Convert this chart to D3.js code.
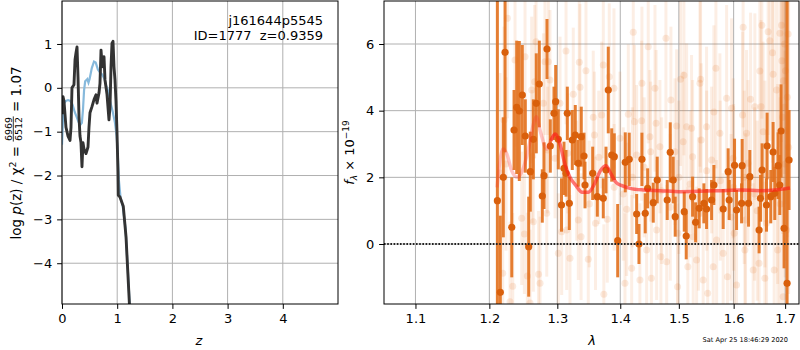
<!DOCTYPE html>
<html><head><meta charset="utf-8">
<script src="https://cdn.jsdelivr.net/npm/d3@7"></script>
<style>body{margin:0;background:#fff} text{font-family:"DejaVu Sans",sans-serif}</style>
</head><body><svg id="c" width="800" height="350"></svg>
<script>
// ---- left panel: p(z)
const zBlack=[0,0.018,0.036,0.072,0.109,0.145,0.163,0.181,0.217,0.236,0.254,0.272,0.29,0.308,0.326,0.344,0.362,0.38,0.399,0.435,0.471,0.489,0.507,0.543,0.58,0.616,0.634,0.67,0.688,0.707,0.725,0.743,0.761,0.779,0.797,0.815,0.851,0.87,0.888,0.906,0.924,0.942,0.96,0.978,0.996,1.014,1.02,1.05,1.11,1.16,1.19,1.22,1.25];
const pBlack=[-0.6,-0.2,-0.3,-0.9,-1.1,-1.2,-0.9,0.0,0.07,0.64,0.8,0.93,0.25,-0.66,-1.1,-1.25,-1.8,-1.25,-1.4,-1.5,-1.35,-0.9,-0.57,-0.43,-0.27,-0.16,-0.35,-0.12,0.1,0.86,0.56,0.48,0.71,0.18,0.02,-0.15,-0.73,-0.43,0.48,1.02,1.06,0.48,0.18,-0.3,-1.0,-1.9,-2.45,-2.49,-2.7,-3.4,-4.15,-4.9,-5.6];
const zBlue=[0,0.018,0.036,0.07,0.11,0.15,0.19,0.23,0.27,0.30,0.33,0.36,0.38,0.40,0.42,0.46,0.48,0.50,0.54,0.58,0.61,0.65,0.69,0.73,0.77,0.80,0.83,0.87,0.92,0.96,0.99,1.01,1.03,1.06,1.10,1.15,1.19,1.225,1.255];
const pBlue=[-1.3,-0.7,-0.35,-0.3,-0.28,-0.3,-0.38,-0.55,-0.68,-0.78,-0.85,-0.8,-0.5,-0.05,0.15,0.2,0.12,0.2,0.45,0.6,0.58,0.42,0.35,0.3,0.2,0.05,-0.05,-0.3,-0.55,-0.8,-1.1,-1.5,-2.1,-2.5,-2.7,-3.2,-4.1,-4.9,-5.6];
const zTicks=[0,1,2,3,4];
const pTicks=[1,0,-1,-2,-3,-4];

// ---- right panel: spectrum
const binLam=[1.2114,1.2156,1.2199,1.2224,1.2321,1.2354,1.2393,1.2431,1.2475,1.2519,1.2569,1.2593,1.2638,1.2682,1.2727,1.2772,1.2798,1.2843,1.2893,1.2949,1.2975,1.3015,1.3064,1.3103,1.3134,1.3154,1.3185,1.3231,1.3278,1.3325,1.3372,1.3415,1.3431,1.3553,1.3627,1.3723,1.3767,1.3804,1.3860,1.3902,1.3958,1.4083,1.4149,1.4273,1.4312,1.4362,1.4418,1.4459,1.4555,1.4623,1.4796,1.4849,1.4901,1.4936,1.5096,1.5131,1.5245,1.5299,1.5364,1.5449,1.5498,1.5590,1.5632,1.5804,1.5897,1.5916,1.6017,1.6055,1.6150,1.6161,1.6283,1.6308,1.6487,1.6514,1.6545,1.6631,1.6643,1.6715,1.6761,1.6794,1.6860,1.6893,1.6919,1.6979,1.7039,1.7079];
const binFlux=[1.30,-1.45,2.0,5.75,0.5,3.42,4.1,3.99,4.47,3.24,-0.08,2.17,3.14,4.22,4.8,1.44,2.05,5.85,2.94,3.92,4.27,3.14,1.17,2.27,2.12,3.92,1.22,3.12,3.27,2.42,3.22,2.64,1.77,2.12,1.42,1.37,2.22,4.62,2.67,2.62,0.1,2.45,2.54,0.9,0.0,2.54,0.92,1.67,1.24,1.92,1.32,2.75,1.92,0.82,0.97,0.24,1.42,0.65,1.07,1.22,1.05,1.32,1.77,1.05,2.17,1.32,2.36,1.02,1.22,2.35,1.22,2.02,0.42,1.37,2.22,1.17,2.94,1.42,2.76,1.52,2.35,1.77,3.39,0.47,-1.18,2.52];
const binErr=[7,2.3,1.8,3,1.5,1.2,2.0,2.1,1.5,1.1,1.5,1.2,1.2,1.5,1.3,0.8,1.0,0.9,0.8,0.8,1.1,0.9,0.8,0.8,0.7,0.8,0.8,0.9,0.9,0.7,0.9,0.7,0.7,0.8,0.6,0.6,0.7,1.3,0.8,0.7,1.1,0.9,0.8,0.6,0.6,0.8,0.6,0.6,0.6,0.7,0.6,0.9,0.7,0.6,0.6,0.7,0.6,0.6,0.6,0.6,0.6,0.6,0.6,0.6,0.7,0.6,0.8,0.6,0.6,0.8,0.7,0.8,0.7,0.7,0.8,0.8,1.0,0.8,0.9,0.8,1.0,0.9,1.4,1.2,9,1.5];

const faintLam=[1.3134,1.3341,1.3446,1.3247,1.3352,1.3723,1.3820,1.3897,1.4216,1.4469,1.4362,1.4584,1.4774,1.4861,1.5031,1.5090,1.5389,1.5669,1.6180,1.6540,1.6663,1.6502,1.6762,1.6829,1.6895,1.6928,1.6697,1.6750,1.6322,1.5868,1.5377,1.3562,1.3697,1.4133,1.4236,1.4357,1.4604,1.4498,1.4961,1.5138,1.5498,1.5227,1.5632,1.5961,1.6169,1.6405,1.6524,1.5077,1.5400,1.5743,1.6245,1.6566,1.4670,1.4510,1.3580,1.3160,1.3995,1.4273,1.4931,1.5245,1.5590,1.5991,1.6273,1.3325,1.3195,1.3483,1.3732,1.3788,1.4106,1.4189,1.4328,1.4078,1.4442,1.4523,1.4687,1.4786,1.4978,1.5160,1.5317,1.5436,1.5518,1.5619,1.5804,1.5883,1.6055,1.6213,1.6372,1.6486,1.6599,1.6782,1.6852,1.6960,1.7028,1.3369,1.3598,1.4613,1.5256,1.5682,1.6226,1.6632,1.4983,1.6011,1.2466,1.2505,1.2638,1.2738,1.2716,1.2335,1.2191,1.2549,1.2296,1.2589,1.2839,1.3015,1.3067,1.3144,1.2257,1.2368,1.2515,1.2658,1.2614,1.2209,1.2238,1.2152,1.2813,1.2888,1.3041,1.2789,1.2853,1.2965,1.2618,1.2678,1.2863,1.6935,1.6965,1.6990,1.7005,1.7045,1.7060,1.6950,1.7015,1.7070,1.6985,1.3300,1.3500,1.3650,1.3900,1.4050,1.4200,1.4400,1.4700,1.5000,1.5200,1.5500,1.5750,1.6000,1.6200,1.6400,1.6600,1.6850,1.7000,1.4850,1.5350,1.5950,1.6450,1.6900];
const faintFlux=[5.79,5.45,5.20,4.49,4.70,5.37,5.02,4.67,6.35,5.92,4.82,4.67,6.17,4.32,4.94,5.06,4.94,5.27,6.50,6.56,6.37,5.19,5.09,4.62,6.32,6.56,6.10,5.74,4.34,4.37,4.82,3.80,3.87,3.89,3.67,3.70,3.62,3.22,3.54,3.52,3.52,3.47,3.96,4.07,3.87,4.12,4.12,3.07,3.12,3.32,3.32,3.37,2.92,2.77,3.27,2.72,3.17,2.67,2.77,2.62,2.52,2.57,2.42,0.72,-0.43,-0.46,-1.51,0.74,1.04,-0.73,-1.08,-1.18,-0.18,-1.03,-0.38,-0.53,-1.28,-0.68,-0.48,-1.08,-1.48,-0.68,-0.28,-0.98,-1.23,-0.18,-0.78,-0.58,-1.03,-0.78,-0.18,-1.58,0.42,0.22,0.62,0.42,0.22,0.12,0.72,0.62,0.32,0.32,0.77,0.30,0.67,-1.18,-0.91,-1.27,-0.88,-0.96,-1.73,-1.77,0.92,-0.28,0.37,0.42,6.77,5.52,5.62,4.87,4.62,3.72,2.40,2.13,5.47,4.92,4.22,4.22,2.82,2.57,2.62,6.07,5.47,5.50,4.90,6.00,5.20,4.40,6.30,3.80,3.40,2.90,4.10,1.90,1.20,2.60,1.70,1.50,2.00,2.30,1.60,2.00,1.80,2.20,1.90,1.70,2.00,1.50,2.10,1.80,2.40,1.10,0.90,0.80,1.00,1.20];
const faintErr=[2.2,2.4,2.6,2.0,2.5,2.8,2.2,2.4,2.6,2.9,2.3,2.5,2.7,2.2,2.6,2.4,2.8,3.0,3.0,2.8,3.1,2.9,3.2,3.0,3.4,3.5,3.0,3.3,2.6,2.8,2.5,2.0,2.2,2.1,2.3,2.4,2.2,2.0,2.3,2.5,2.4,2.2,2.6,2.7,2.5,2.8,2.6,2.1,2.3,2.4,2.5,2.7,2.0,2.1,1.9,1.8,2.0,2.1,2.2,2.3,2.2,2.4,2.5,1.8,1.9,2.0,2.1,1.9,2.0,2.2,2.3,2.1,2.0,2.4,2.2,2.3,2.5,2.4,2.2,2.6,2.5,2.3,2.4,2.6,2.7,2.5,2.6,2.8,2.9,3.0,3.1,3.4,3.6,1.9,2.0,2.1,2.3,2.4,2.6,2.8,2.2,2.5,2.0,1.8,2.1,2.0,1.9,2.2,2.5,1.9,2.4,2.2,1.9,1.8,1.9,1.8,3.0,2.6,2.5,2.3,2.2,2.8,2.6,3.0,2.2,2.1,2.0,2.1,1.9,1.8,2.0,2.4,2.2,3.6,3.8,3.9,4.0,4.2,4.3,3.5,3.9,4.4,3.7,1.8,1.9,2.0,1.9,2.0,2.1,2.1,2.2,2.3,2.2,2.4,2.4,2.5,2.6,2.6,2.8,3.0,3.4,2.2,2.3,2.5,2.7,3.2];

const modelLam=[1.2109,1.2194,1.2250,1.2320,1.2406,1.2494,1.2580,1.2640,1.2682,1.2740,1.2839,1.2902,1.2965,1.3041,1.3116,1.3195,1.3289,1.3384,1.3483,1.3581,1.3677,1.3767,1.3849,1.3930,1.4029,1.4164,1.4385,1.4670,1.5014,1.5367,1.5745,1.6134,1.6502,1.6794,1.7098];
const modelFlux=[1.7,2.85,2.7,2.2,2.0,2.3,3.0,3.6,3.82,3.4,2.85,3.1,3.3,3.0,2.4,2.0,1.75,1.55,1.55,1.8,2.2,2.35,2.1,1.85,1.75,1.67,1.62,1.6,1.57,1.58,1.6,1.62,1.6,1.62,1.68];
const lamTicks=[1.1,1.2,1.3,1.4,1.5,1.6,1.7];
const fTicks=[0,2,4,6];

const svg=d3.select("#c");
const L={x0:62,x1:338,y0:1,y1:304}, R={x0:384,x1:799,y0:1,y1:304};
const zx=d3.scaleLinear([0,5],[L.x0,L.x1]);
const zy=d3.scaleLinear([-4.93,1.98],[L.y1,L.y0]);
const lx=d3.scaleLog([1.06,1.728],[R.x0,R.x1]);
const ly=d3.scaleLinear([-1.8,7.29],[R.y1,R.y0]);

const defs=svg.append("defs");
[["cl",L],["cr",R]].forEach(([id,b])=>defs.append("clipPath").attr("id",id).append("rect")
  .attr("x",b.x0).attr("y",b.y0).attr("width",b.x1-b.x0).attr("height",b.y1-b.y0));

function grid(b,xs,xt,ys,yt){
  const g=svg.append("g").attr("stroke","#b0b0b0").attr("stroke-width",1);
  xt.forEach(v=>g.append("line").attr("x1",xs(v)).attr("x2",xs(v)).attr("y1",b.y0).attr("y2",b.y1));
  yt.forEach(v=>g.append("line").attr("y1",ys(v)).attr("y2",ys(v)).attr("x1",b.x0).attr("x2",b.x1));
}
grid(L,zx,zTicks,zy,pTicks);
grid(R,lx,lamTicks,ly,fTicks);

// left curves
const gl=svg.append("g").attr("clip-path","url(#cl)");
gl.append("path").datum(d3.range(zBlue.length)).attr("fill","none").attr("stroke","#86b9dc").attr("stroke-width",2.2)
  .attr("d",d3.line().x(i=>zx(zBlue[i])).y(i=>zy(pBlue[i])));
gl.append("path").datum(d3.range(zBlack.length)).attr("fill","none").attr("stroke","#333").attr("stroke-width",2.9).attr("stroke-linejoin","round")
  .attr("d",d3.line().x(i=>zx(zBlack[i])).y(i=>zy(pBlack[i])));

// right spectrum
const gr=svg.append("g").attr("clip-path","url(#cr)");
const orange="#e5731f";
const fi=d3.range(faintLam.length);
gr.append("g").selectAll("line").data(fi).join("line")
  .attr("x1",i=>lx(faintLam[i])).attr("x2",i=>lx(faintLam[i]))
  .attr("y1",i=>ly(faintFlux[i]-faintErr[i])).attr("y2",i=>ly(faintFlux[i]+faintErr[i]))
  .attr("stroke",orange).attr("stroke-opacity",0.12).attr("stroke-width",3);
gr.append("g").selectAll("circle").data(fi).join("circle")
  .attr("cx",i=>lx(faintLam[i])).attr("cy",i=>ly(faintFlux[i])).attr("r",3.5)
  .attr("fill",orange).attr("fill-opacity",0.15);
const bi=d3.range(binLam.length);
gr.append("g").selectAll("line").data(bi).join("line")
  .attr("x1",i=>lx(binLam[i])).attr("x2",i=>lx(binLam[i]))
  .attr("y1",i=>ly(binFlux[i]-binErr[i])).attr("y2",i=>ly(binFlux[i]+binErr[i]))
  .attr("stroke","#e2701c").attr("stroke-opacity",0.9).attr("stroke-width",3);
gr.append("g").selectAll("circle").data(bi).join("circle")
  .attr("cx",i=>lx(binLam[i])).attr("cy",i=>ly(binFlux[i])).attr("r",3.6)
  .attr("fill","#d9600c");
const mi=d3.range(modelLam.length);
const mline=d3.line().curve(d3.curveMonotoneX).x(i=>lx(modelLam[i])).y(i=>ly(modelFlux[i]));
gr.append("path").datum(mi.filter(i=>modelLam[i]<=1.2975)).attr("fill","none").attr("stroke","#ff3030").attr("stroke-opacity",0.28).attr("stroke-width",3.5).attr("d",mline);
gr.append("path").datum(mi.filter(i=>modelLam[i]>=1.2902)).attr("fill","none").attr("stroke","#ff1a1a").attr("stroke-opacity",0.6).attr("stroke-width",3.5).attr("d",mline);
gr.append("line").attr("x1",R.x0).attr("x2",R.x1).attr("y1",ly(0)).attr("y2",ly(0))
  .attr("stroke","#222").attr("stroke-width",2).attr("stroke-dasharray","1.6,1.6");

// axes
function styleAxis(g){g.select(".domain").remove();g.attr("font-size",13).attr("font-family","DejaVu Sans");g.selectAll("line").attr("stroke","#000");g.selectAll("text").attr("fill","#000");}
svg.append("g").attr("transform",`translate(0,${L.y1})`).call(d3.axisBottom(zx).tickValues(zTicks).tickSize(4.9).tickPadding(4.9).tickFormat(d3.format("d"))).call(styleAxis);
svg.append("g").attr("transform",`translate(${L.x0},0)`).call(d3.axisLeft(zy).tickValues(pTicks).tickSize(4.9).tickPadding(4.9).tickFormat(d3.format("d"))).call(styleAxis);
svg.append("g").attr("transform",`translate(0,${R.y1})`).call(d3.axisBottom(lx).tickValues(lamTicks).tickSize(4.9).tickPadding(4.9).tickFormat(d3.format(".1f"))).call(styleAxis);
svg.append("g").attr("transform",`translate(${R.x0},0)`).call(d3.axisLeft(ly).tickValues(fTicks).tickSize(4.9).tickPadding(4.9).tickFormat(d3.format("d"))).call(styleAxis);

[L,R].forEach(b=>svg.append("rect").attr("x",b.x0).attr("y",b.y0).attr("width",b.x1-b.x0).attr("height",b.y1-b.y0)
  .attr("fill","none").attr("stroke","#000").attr("stroke-width",1));

// annotations
svg.append("text").attr("x",323).attr("y",24.5).attr("text-anchor","end").attr("font-size",13).text("j161644p5545");
svg.append("text").attr("x",323).attr("y",39.5).attr("text-anchor","end").attr("font-size",13).style("white-space","pre").text("ID=1777  z=0.9359");
svg.append("text").attr("x",199).attr("y",345).attr("text-anchor","middle").attr("font-size",13).attr("font-style","italic").text("z");
svg.append("text").attr("x",592).attr("y",345).attr("text-anchor","middle").attr("font-size",13).attr("font-style","italic").text("λ");
svg.append("text").attr("x",788).attr("y",342).attr("text-anchor","end").attr("font-size",6.6).text("Sat Apr 25 18:46:29 2020");

// left y label with fraction
const yl=svg.append("g");
const t1=yl.append("text").attr("font-size",13.5);
t1.append("tspan").text("log ");
t1.append("tspan").attr("font-style","italic").text("p");
t1.append("tspan").text("(z) / χ");
t1.append("tspan").attr("font-size",9.5).attr("dy",-5).text("2");
t1.append("tspan").attr("dy",5).style("white-space","pre").text(" = ");
const w1=t1.node().getComputedTextLength();
const num=yl.append("text").attr("font-size",9.5).attr("text-anchor","middle").text("6969");
const den=yl.append("text").attr("font-size",9.5).attr("text-anchor","middle").text("6512");
const fw=Math.max(num.node().getComputedTextLength(),den.node().getComputedTextLength())+1;
num.attr("x",w1+fw/2).attr("y",-8.6);
den.attr("x",w1+fw/2).attr("y",1.6);
yl.append("line").attr("x1",w1).attr("x2",w1+fw).attr("y1",-7.2).attr("y2",-7.2).attr("stroke","#000").attr("stroke-width",0.8);
const t3=yl.append("text").attr("font-size",13.5).attr("x",w1+fw).style("white-space","pre").text(" = 1.07");
const total=w1+fw+t3.node().getComputedTextLength();
yl.attr("transform",`translate(20.5,${153+total/2}) rotate(-90)`);

// right y label
const yr=svg.append("text").attr("font-size",13).attr("text-anchor","middle").attr("transform","translate(354,152.5) rotate(-90)");
yr.append("tspan").attr("font-style","italic").text("f");
yr.append("tspan").attr("font-style","italic").attr("font-size",9).attr("dy",3).text("λ");
yr.append("tspan").attr("dy",-3).style("white-space","pre").text(" × 10");
yr.append("tspan").attr("font-size",9).attr("dy",-5.5).text("−19");
</script></body></html>
